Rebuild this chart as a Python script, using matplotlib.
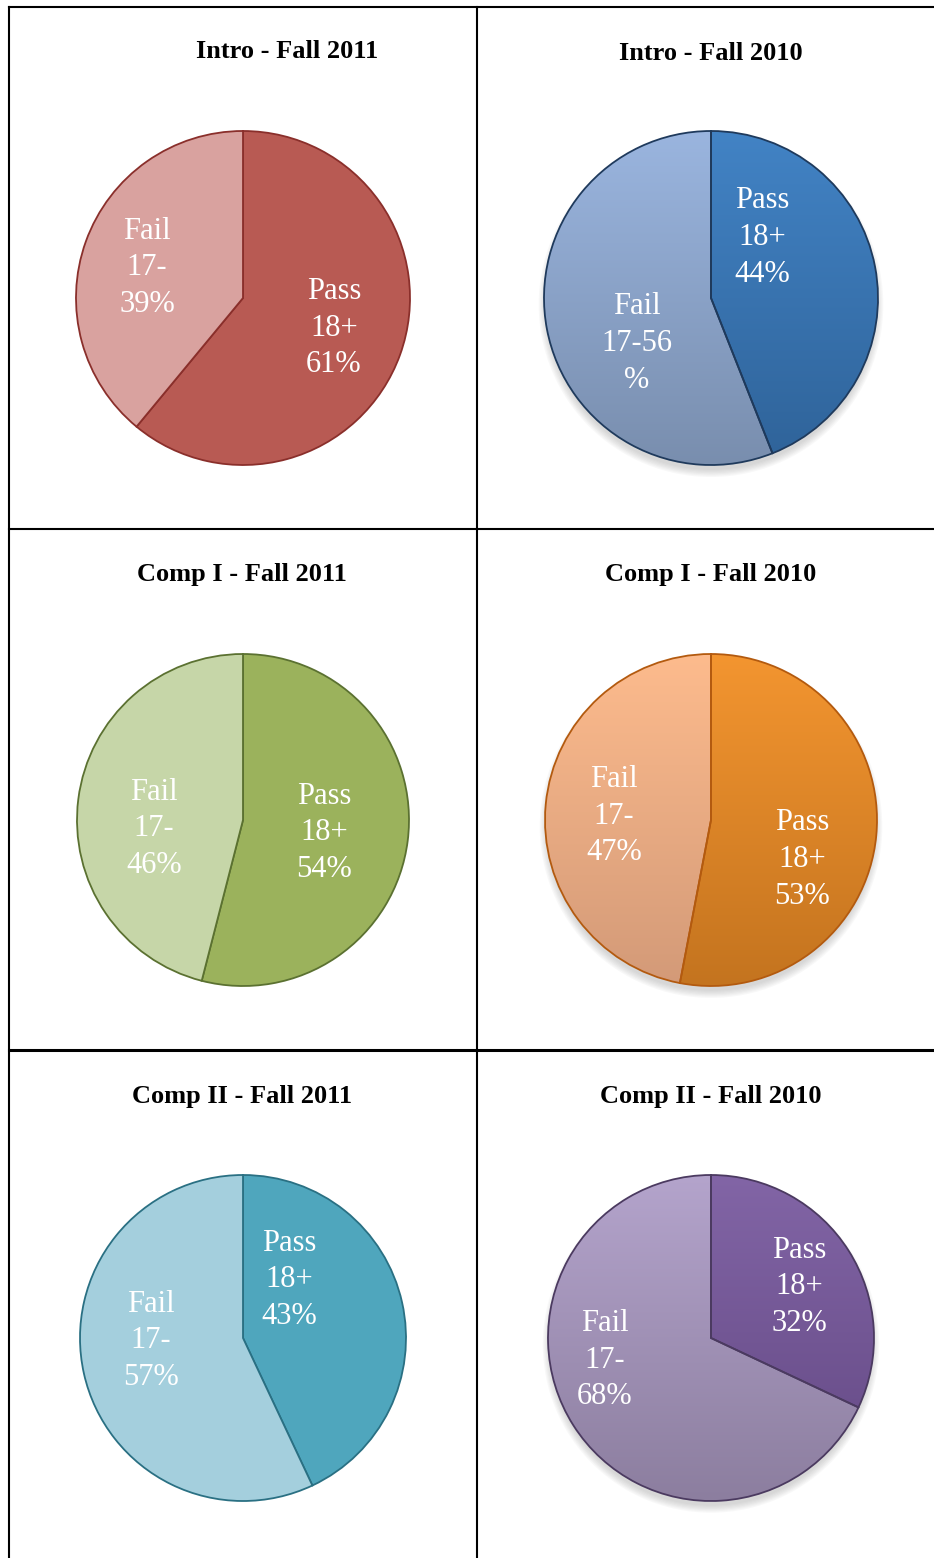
import numpy as np
import matplotlib as mpl
import matplotlib.pyplot as plt
from matplotlib.lines import Line2D
from matplotlib.patches import Circle
mpl.use('agg')

plt.rcParams['font.family'] = ['Liberation Serif', 'DejaVu Serif']

## data
titles = ['Intro - Fall 2011', 'Intro - Fall 2010',
          'Comp I - Fall 2011', 'Comp I - Fall 2010',
          'Comp II - Fall 2011', 'Comp II - Fall 2010']
pass_pct = [61, 44, 54, 53, 43, 32]
fail_pct = [39, 56, 46, 47, 57, 68]
pass_labels = ['Pass\n18+\n61%', 'Pass\n18+\n44%', 'Pass\n18+\n54%',
               'Pass\n18+\n53%', 'Pass\n18+\n43%', 'Pass\n18+\n32%']
fail_labels = ['Fail\n17-\n39%', 'Fail\n17-56\n%', 'Fail\n17-\n46%',
               'Fail\n17-\n47%', 'Fail\n17-\n57%', 'Fail\n17-\n68%']

## colours: (top, bottom) for pass, (top, bottom) for fail, edge
pass_cols = [('#b85a53', '#b85a53'), ('#4283c5', '#2f6399'),
             ('#9bb25c', '#9bb25c'), ('#f39530', '#c4741f'),
             ('#4fa6bd', '#4fa6bd'), ('#8265a6', '#634883')]
fail_cols = [('#d9a29f', '#d9a29f'), ('#9ab5df', '#798eae'),
             ('#c6d6a8', '#c6d6a8'), ('#fdbb8d', '#d39a78'),
             ('#a4cfdd', '#a4cfdd'), ('#b4a4cc', '#8c7e9f')]
edge_cols = ['#8a2f2b', '#1f3a5c', '#5b7131', '#b35a0f', '#2a7083', '#4b3a60']
shadow = [False, True, False, True, False, True]

## layout (pixels)
W, H = 934, 1558
centers = [(243, 298), (711, 298), (243, 820), (711, 820), (243, 1338), (711, 1338)]
radii = [167, 167, 166, 166, 163, 163]
title_pos = [(287, 51), (711, 53), (242, 575), (711, 575), (242, 1097), (711, 1097)]
pass_xy = [(0.545, -0.18), (0.305, 0.36), (0.488, -0.078),
           (0.548, -0.24), (0.282, 0.356), (0.54, 0.313)]
fail_xy = [(-0.575, 0.18), (-0.443, -0.27), (-0.536, -0.054),
           (-0.584, 0.024), (-0.564, -0.018), (-0.65, -0.135)]

fig = plt.figure(figsize=(W / 100, H / 100), dpi=100)
fig.patch.set_facecolor('white')


def grad_fill(ax, wedge, top, bottom):
    c1 = np.array(mpl.colors.to_rgb(top))
    c2 = np.array(mpl.colors.to_rgb(bottom))
    t = np.linspace(0, 1, 256)[:, None]
    img = (c1 * (1 - t) + c2 * t)[:, None, :]
    im = ax.imshow(img, extent=(-1, 1, -1, 1), aspect='auto', zorder=1,
                   interpolation='bilinear')
    im.set_clip_path(wedge)
    wedge.set_facecolor('none')
    wedge.set_zorder(2)


for i in range(6):
    cx, cy = centers[i]
    r = radii[i]
    pad = 1.12
    ax = fig.add_axes([(cx - r * pad) / W, 1 - (cy + r * pad) / H,
                       2 * r * pad / W, 2 * r * pad / H])
    ax.set_xlim(-pad, pad)
    ax.set_ylim(-pad, pad)
    ax.axis('off')

    if shadow[i]:
        for k in range(7):
            ax.add_patch(Circle((0.0, -0.04), 0.99 + 0.007 * k,
                                color='#888888', alpha=0.05, lw=0, zorder=0))
        ax.add_patch(Circle((0, 0), 1.0, color='white', lw=0, zorder=0.5))

    wedges, _ = ax.pie([pass_pct[i], fail_pct[i]], startangle=90, counterclock=False,
                       colors=[pass_cols[i][0], fail_cols[i][0]],
                       wedgeprops=dict(edgecolor=edge_cols[i], linewidth=1.3),
                       radius=1.0, frame=False)
    ax.set_xlim(-pad, pad)
    ax.set_ylim(-pad, pad)
    ax.set_aspect('auto')
    if pass_cols[i][0] != pass_cols[i][1]:
        grad_fill(ax, wedges[0], *pass_cols[i])
        grad_fill(ax, wedges[1], *fail_cols[i])

    ax.text(pass_xy[i][0], pass_xy[i][1], pass_labels[i], color='white', fontsize=22,
            ha='center', va='center', linespacing=1.36, zorder=5)
    ax.text(fail_xy[i][0], fail_xy[i][1], fail_labels[i], color='white', fontsize=22,
            ha='center', va='center', linespacing=1.36, zorder=5)

    fig.text(title_pos[i][0] / W, 1 - title_pos[i][1] / H, titles[i], fontsize=19,
             fontweight='bold', ha='center', va='center')

## table borders
def hline(y, x0, x1, lw=1.5):
    fig.add_artist(Line2D([x0 / W, x1 / W], [1 - y / H, 1 - y / H], color='black', lw=lw))

def vline(x, y0, y1, lw=1.5):
    fig.add_artist(Line2D([x / W, x / W], [1 - y0 / H, 1 - y1 / H], color='black', lw=lw))

hline(7, 9, W)
hline(529, 9, W)
hline(1050, 9, W, lw=2.2)
vline(9, 7, H)
vline(477, 7, H)

fig.savefig('out.png', dpi=100)
